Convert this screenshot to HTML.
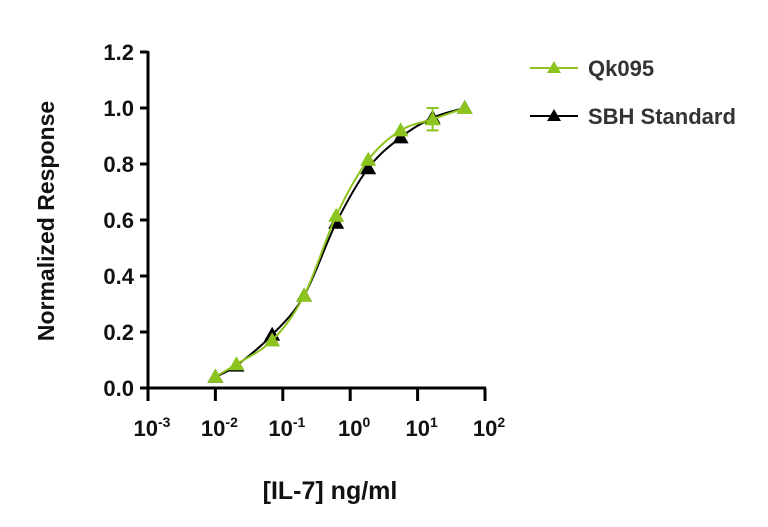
<!DOCTYPE html>
<html><head><meta charset="utf-8"><style>
body{margin:0;background:#fff}
svg{display:block;font-family:"Liberation Sans",sans-serif;font-weight:bold}
</style></head><body>
<svg id="c" width="768" height="527"></svg>
<script>
const concs=[0.01,0.0205,0.0695,0.207,0.62,1.85,5.6,16.7,50];
const qkVals=[0.04,0.085,0.17,0.33,0.615,0.815,0.92,0.96,1.0];
const qkErr=[0,0,0,0,0,0,0,0.04,0];
const sbhVals=[0.04,0.08,0.19,0.33,0.59,0.785,0.895,0.965,1.0];
const yTicks=[0,0.2,0.4,0.6,0.8,1.0,1.2];
const yTickLabels=["0.0","0.2","0.4","0.6","0.8","1.0","1.2"];
const xExps=[-3,-2,-1,0,1,2];
const NS="http://www.w3.org/2000/svg";
const svg=document.getElementById('c');
const X0=148,DEC=67.4,Y0=388,YU=280;
const xs=v=>X0+(Math.log10(v)+3)*DEC;
const ys=v=>Y0-v*YU;
function mk(t,a,p){const e=document.createElementNS(NS,t);for(const k in a)e.setAttribute(k,a[k]);(p||svg).appendChild(e);return e;}
let ax=mk('line',{x1:X0,y1:Y0,x2:X0+5*DEC+1,y2:Y0,stroke:'#000','stroke-width':3});


let ay=mk('line',{x1:X0,y1:ys(1.2)-1,x2:X0,y2:Y0+1,stroke:'#000','stroke-width':3});


yTicks.forEach((t,i)=>{
 mk('line',{x1:X0-8,y1:ys(t),x2:X0,y2:ys(t),stroke:'#000','stroke-width':3});
 const tx=mk('text',{x:X0-14,y:ys(t)+8,'text-anchor':'end','font-size':22,fill:'#111'});
 tx.textContent=yTickLabels[i];
 
 
});
xExps.forEach(e=>{
 const x=X0+(e+3)*DEC;
 mk('line',{x1:x,y1:Y0,x2:x,y2:Y0+13,stroke:'#000','stroke-width':3});
 const tx=mk('text',{x:x+4,y:Y0+48,'text-anchor':'middle','font-size':22,fill:'#111'});
 tx.innerHTML='10<tspan dy="-9" font-size="14">'+e+'</tspan>';
 
 
});
let yt=mk('text',{x:0,y:0,transform:'translate(54,221) rotate(-90)','text-anchor':'middle','font-size':23,fill:'#111'});
yt.textContent='Normalized Response';


let xt=mk('text',{x:330,y:499,'text-anchor':'middle','font-size':25,fill:'#111'});
xt.textContent='[IL-7] ng/ml';


function smooth(pts){let d='M'+pts[0][0]+','+pts[0][1];
 for(let i=0;i<pts.length-1;i++){const p0=pts[i-1]||pts[i],p1=pts[i],p2=pts[i+1],p3=pts[i+2]||p2;
  d+=' C'+(p1[0]+(p2[0]-p0[0])/6)+','+(p1[1]+(p2[1]-p0[1])/6)+' '+(p2[0]-(p3[0]-p1[0])/6)+','+(p2[1]-(p3[1]-p1[1])/6)+' '+p2[0]+','+p2[1];}
 return d;}
function tri(x,y,c,name){const s=8;const t=mk('polygon',{points:`${x},${y-s} ${x-s},${y+6} ${x+s},${y+6}`,fill:c});
 
 }
function series(vals,color,name,err){
 const pts=concs.map((c,i)=>[xs(c),ys(vals[i])]);
 const p=mk('path',{d:smooth(pts),fill:'none',stroke:color,'stroke-width':2});
 
 
 if(err)concs.forEach((c,i)=>{if(err[i]>0){const x=xs(c);
  mk('line',{x1:x,y1:ys(vals[i]+err[i]),x2:x,y2:ys(vals[i]-err[i]),stroke:color,'stroke-width':2});
  mk('line',{x1:x-6,y1:ys(vals[i]+err[i]),x2:x+6,y2:ys(vals[i]+err[i]),stroke:color,'stroke-width':2});
  mk('line',{x1:x-6,y1:ys(vals[i]-err[i]),x2:x+6,y2:ys(vals[i]-err[i]),stroke:color,'stroke-width':2});}});
 pts.forEach(q=>tri(q[0],q[1],color,name+'-point'));
}
series(sbhVals,'#000','sbh-standard');
series(qkVals,'#8dc31e','qk095',qkErr);
function legend(y,color,label,name){
 const g=mk('g',{});
 
 
 mk('line',{x1:530,y1:y,x2:578,y2:y,stroke:color,'stroke-width':2},g);
 const s=7;mk('polygon',{points:`554,${y-s} ${554-s},${y+5} ${554+s},${y+5}`,fill:color},g);
 const t=mk('text',{x:588,y:y+8,'font-size':22,fill:'#333'},g);t.textContent=label;
}
legend(68,'#8dc31e','Qk095','legend-qk095');
legend(116,'#000','SBH Standard','legend-sbh-standard');
</script>
</body></html>
